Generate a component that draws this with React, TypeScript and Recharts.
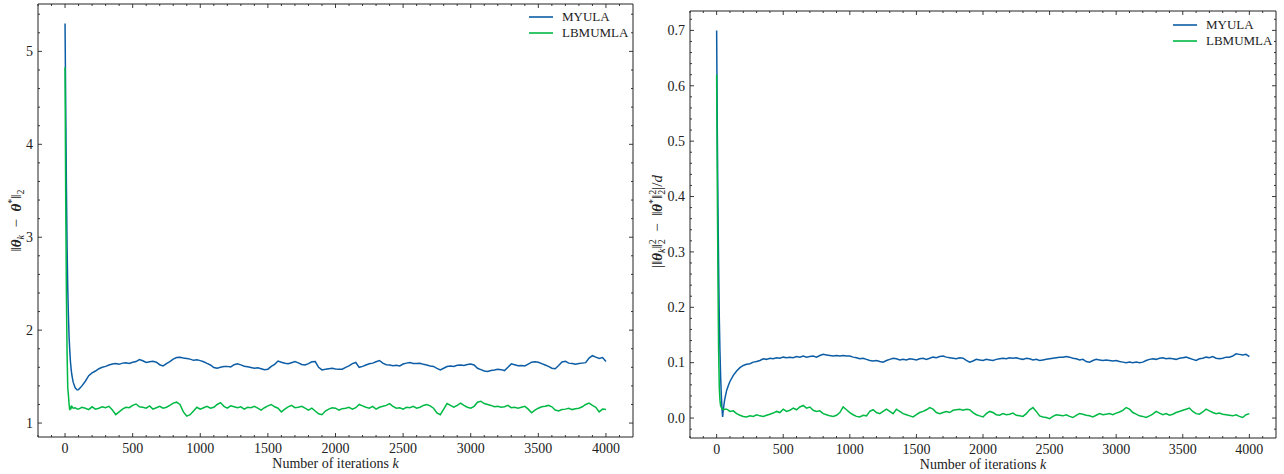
import { LineChart, Line, XAxis, YAxis, Legend, Label } from "recharts"

const BLUE = "#0C5DA5"
const GREEN = "#00B945"
const INK = "#222"
const FONT = "'Liberation Serif', 'DejaVu Serif', serif"

const SERIES = [
  { key: "MYULA", color: BLUE },
  { key: "LBMUMLA", color: GREEN },
]

// sample positions (dense at the start, then every 25 iterations)
const earlyIterations = [0, 5, 10, 15, 20, 25, 30, 35, 40, 45, 50, 60, 75, 90]
const iterations = [...earlyIterations, ...Array.from({ length: 157 }, (_, i) => 100 + 25 * i)]

// left panel: ||theta_k - theta*||_2
const myulaDist = [
  5.3, 4.4, 3.55, 2.9, 2.45, 2.15, 1.92, 1.78, 1.66, 1.58, 1.52, 1.44, 1.38, 1.356,
  1.36, 1.40, 1.45, 1.51, 1.54, 1.56, 1.585, 1.60,
  1.61, 1.625, 1.635, 1.64, 1.632, 1.645, 1.65, 1.642,
  1.655, 1.662, 1.684, 1.67, 1.652, 1.66, 1.666, 1.655,
  1.628, 1.615, 1.64, 1.662, 1.688, 1.705, 1.708, 1.70,
  1.695, 1.688, 1.675, 1.68, 1.672, 1.66, 1.642, 1.625,
  1.598, 1.59, 1.60, 1.608, 1.61, 1.604, 1.628, 1.638,
  1.626, 1.612, 1.605, 1.598, 1.59, 1.595, 1.585, 1.575,
  1.58, 1.61, 1.632, 1.668, 1.655, 1.643, 1.638, 1.65,
  1.662, 1.648, 1.63, 1.625, 1.64, 1.66, 1.662, 1.60,
  1.572, 1.578, 1.585, 1.59, 1.582, 1.578, 1.58, 1.60,
  1.615, 1.64, 1.652, 1.60, 1.61, 1.625, 1.638, 1.645,
  1.66, 1.673, 1.645, 1.628, 1.625, 1.618, 1.622, 1.615,
  1.635, 1.645, 1.651, 1.642, 1.64, 1.644, 1.632, 1.625,
  1.615, 1.61, 1.588, 1.572, 1.59, 1.608, 1.615, 1.61,
  1.622, 1.626, 1.62, 1.63, 1.635, 1.625, 1.59, 1.575,
  1.56, 1.554, 1.565, 1.57, 1.579, 1.575, 1.565, 1.60,
  1.637, 1.628, 1.618, 1.62, 1.615, 1.635, 1.655, 1.66,
  1.655, 1.64, 1.625, 1.61, 1.59, 1.585, 1.62, 1.658,
  1.665, 1.645, 1.64, 1.632, 1.64, 1.645, 1.65, 1.70,
  1.725, 1.71, 1.695, 1.705, 1.662,
]
const lbmumlaDist = [
  4.83, 3.4, 2.4, 1.75, 1.38, 1.3, 1.2, 1.14, 1.17, 1.16, 1.18, 1.16, 1.165, 1.15,
  1.15, 1.17, 1.16, 1.145, 1.175, 1.15, 1.16, 1.175,
  1.165, 1.18, 1.14, 1.09, 1.12, 1.15, 1.17, 1.165,
  1.19, 1.205, 1.175, 1.17, 1.16, 1.185, 1.15, 1.165,
  1.18, 1.16, 1.17, 1.19, 1.215, 1.225, 1.20, 1.12,
  1.075, 1.09, 1.13, 1.17, 1.15, 1.165, 1.18, 1.16,
  1.17, 1.20, 1.22, 1.18, 1.16, 1.185, 1.175, 1.165,
  1.175, 1.15, 1.17, 1.165, 1.18, 1.16, 1.14, 1.165,
  1.185, 1.20, 1.175, 1.16, 1.12, 1.15, 1.175, 1.19,
  1.165, 1.17, 1.18, 1.16, 1.14, 1.16, 1.13, 1.10,
  1.09, 1.13, 1.15, 1.165, 1.16, 1.14, 1.155, 1.16,
  1.17, 1.15, 1.165, 1.20, 1.185, 1.17, 1.16, 1.18,
  1.15, 1.17, 1.18, 1.19, 1.21, 1.18, 1.16, 1.165,
  1.15, 1.17, 1.165, 1.18, 1.16, 1.17, 1.19, 1.20,
  1.185, 1.16, 1.11, 1.09, 1.15, 1.21, 1.19, 1.17,
  1.19, 1.215, 1.19, 1.17, 1.16, 1.18, 1.225, 1.235,
  1.21, 1.20, 1.19, 1.175, 1.18, 1.17, 1.175, 1.19,
  1.165, 1.17, 1.16, 1.17, 1.18, 1.15, 1.11, 1.14,
  1.16, 1.175, 1.18, 1.19, 1.175, 1.14, 1.13, 1.145,
  1.15, 1.16, 1.145, 1.155, 1.16, 1.175, 1.20, 1.215,
  1.19, 1.17, 1.12, 1.15, 1.145,
]

// right panel: | ||theta_k||^2 - ||theta*||^2 | / d
const myulaNorm = [
  0.70, 0.52, 0.38, 0.27, 0.18, 0.12, 0.075, 0.042, 0.018, 0.002, 0.015, 0.033, 0.05, 0.06,
  0.066, 0.077, 0.085, 0.091, 0.095, 0.097, 0.098, 0.101,
  0.102, 0.104, 0.107, 0.106, 0.108, 0.107, 0.109, 0.108,
  0.110, 0.109, 0.110, 0.109, 0.111, 0.110, 0.112, 0.110,
  0.111, 0.112, 0.110, 0.113, 0.115, 0.114, 0.113, 0.112,
  0.113, 0.112, 0.113, 0.112, 0.112, 0.110, 0.109, 0.107,
  0.108, 0.106, 0.104, 0.103, 0.104, 0.102, 0.101, 0.104,
  0.106, 0.108, 0.107, 0.105, 0.106, 0.105, 0.107, 0.106,
  0.105, 0.107, 0.108, 0.106, 0.108, 0.110, 0.109, 0.111,
  0.112, 0.110, 0.109, 0.108, 0.107, 0.109, 0.108, 0.104,
  0.101, 0.103, 0.106, 0.105, 0.104, 0.106, 0.105, 0.104,
  0.106, 0.107, 0.108, 0.107, 0.109, 0.108, 0.109, 0.107,
  0.106, 0.108, 0.107, 0.105, 0.106, 0.104, 0.105, 0.106,
  0.107, 0.108, 0.109, 0.110, 0.110, 0.111, 0.110, 0.108,
  0.107, 0.105, 0.106, 0.102, 0.101, 0.104, 0.106, 0.105,
  0.104, 0.105, 0.104, 0.103, 0.104, 0.102, 0.101, 0.100,
  0.101, 0.100, 0.101, 0.100, 0.101, 0.104, 0.106, 0.107,
  0.106, 0.108, 0.109, 0.107, 0.108, 0.107, 0.106, 0.108,
  0.109, 0.110, 0.108, 0.106, 0.104, 0.107, 0.108, 0.110,
  0.109, 0.111, 0.108, 0.107, 0.108, 0.110, 0.110, 0.112,
  0.116, 0.115, 0.114, 0.115, 0.111,
]
const lbmumlaNorm = [
  0.62, 0.42, 0.25, 0.12, 0.055, 0.032, 0.022, 0.019, 0.017, 0.016, 0.015, 0.016, 0.016, 0.014,
  0.012, 0.013, 0.008, 0.005, 0.003, 0.002, 0.004, 0.003,
  0.006, 0.004, 0.003, 0.005, 0.007, 0.009, 0.012, 0.010,
  0.016, 0.012, 0.014, 0.018, 0.015, 0.020, 0.023, 0.018,
  0.020, 0.014, 0.012, 0.013, 0.008, 0.006, 0.004, 0.003,
  0.005, 0.010, 0.020, 0.015, 0.010, 0.006, 0.003, 0.002,
  0.005, 0.004, 0.012, 0.015, 0.010, 0.008, 0.012, 0.016,
  0.012, 0.008, 0.016, 0.012, 0.008, 0.006, 0.004, 0.002,
  0.006, 0.010, 0.012, 0.015, 0.019, 0.016, 0.010, 0.008,
  0.010, 0.012, 0.010, 0.014, 0.015, 0.016, 0.014, 0.016,
  0.015, 0.010, 0.006, 0.004, 0.002, 0.008, 0.012, 0.010,
  0.006, 0.005, 0.008, 0.006, 0.007, 0.009, 0.005, 0.004,
  0.003, 0.008, 0.015, 0.019, 0.012, 0.004, 0.002, 0.001,
  -0.001, 0.003, 0.006, 0.005, 0.004, 0.006, 0.003, 0.001,
  0.005, 0.008, 0.007, 0.005, 0.004, 0.002, 0.005, 0.008,
  0.006, 0.007, 0.008, 0.006, 0.009, 0.011, 0.014, 0.019,
  0.016, 0.010, 0.007, 0.004, 0.003, 0.001, 0.004, 0.007,
  0.012, 0.009, 0.006, 0.008, 0.005, 0.007, 0.010, 0.012,
  0.014, 0.016, 0.018, 0.012, 0.008, 0.007, 0.011, 0.016,
  0.013, 0.010, 0.008, 0.009, 0.007, 0.006, 0.005, 0.004,
  0.006, 0.003, 0.001, 0.006, 0.008,
]

const xMajor = [0, 500, 1000, 1500, 2000, 2500, 3000, 3500, 4000]
const xMinor = Array.from({ length: 44 }, (_, i) => -200 + 100 * i)
const distMajor = [1, 2, 3, 4, 5]
const distMinor = Array.from({ length: 23 }, (_, i) => Math.round((1 + 0.2 * i) * 10) / 10)
const normMajor = [0, 0.1, 0.2, 0.3, 0.4, 0.5, 0.6, 0.7]
const normMinor = Array.from({ length: 38 }, (_, i) => Math.round((-0.02 + 0.02 * i) * 100) / 100)

const leftData = iterations.map((k, i) => ({ k, MYULA: myulaDist[i], LBMUMLA: lbmumlaDist[i] }))
const rightData = iterations.map((k, i) => ({ k, MYULA: myulaNorm[i], LBMUMLA: lbmumlaNorm[i] }))

type Side = "bottom" | "top" | "left" | "right"

function makeTick(side: Side, majors: number[], fmt?: (v: number) => string) {
  return (props: any) => {
    const { x, y, payload } = props
    const v = payload.value
    const major = majors.some((m) => Math.abs(m - v) < 1e-9)
    const len = major ? 4 : 2
    let line
    if (side === "bottom") line = <line x1={x} y1={y} x2={x} y2={y - len} />
    else if (side === "top") line = <line x1={x} y1={y} x2={x} y2={y + len} />
    else if (side === "left") line = <line x1={x} y1={y} x2={x + len} y2={y} />
    else line = <line x1={x} y1={y} x2={x - len} y2={y} />
    return (
      <g>
        <g stroke={INK} strokeWidth={0.9}>{line}</g>
        {major && fmt && side === "bottom" && (
          <text x={x} y={y + 16} textAnchor="middle" fontFamily={FONT} fontSize={14} fill={INK}>
            {fmt(v)}
          </text>
        )}
        {major && fmt && side === "left" && (
          <text x={x - 5} y={y} dy="0.34em" textAnchor="end" fontFamily={FONT} fontSize={14} fill={INK}>
            {fmt(v)}
          </text>
        )}
      </g>
    )
  }
}

// legend keeps the plotting order (MYULA first)
const renderLegend = () => (
  <div style={{ fontFamily: FONT, fontSize: 13, color: INK }}>
    {SERIES.map((s) => (
      <div key={s.key} style={{ display: "flex", alignItems: "center", height: 16 }}>
        <svg width={24} height={4} style={{ marginRight: 9 }}>
          <line x1={0} y1={2} x2={24} y2={2} stroke={s.color} strokeWidth={1.6} />
        </svg>
        {s.key}
      </div>
    ))}
  </div>
)

const xLabel = (props: any) => {
  const { viewBox } = props
  return (
    <text x={viewBox.x + viewBox.width / 2} y={viewBox.y + 31} textAnchor="middle" fontFamily={FONT} fontSize={14} fill={INK}>
      Number of iterations <tspan fontStyle="italic">k</tspan>
    </text>
  )
}

const distLabel = (props: any) => {
  const { viewBox } = props
  const cx = 16
  const cy = viewBox.y + viewBox.height / 2
  return (
    <text transform={`rotate(-90 ${cx} ${cy})`} x={cx} y={cy} dy="0.35em" textAnchor="middle" fontFamily={FONT} fontSize={15} fill={INK}>
      ‖<tspan fontWeight="bold" fontStyle="italic">θ</tspan>
      <tspan fontStyle="italic" fontSize={10} dy={3}>k</tspan>
      <tspan dy={-3}>{"\u2002−\u2002"}</tspan>
      <tspan fontWeight="bold" fontStyle="italic">θ</tspan>
      <tspan fontSize={10} dy={-6}>*</tspan>
      <tspan dy={6}>‖</tspan>
      <tspan fontSize={10} dy={3}>2</tspan>
    </text>
  )
}

const normLabel = (props: any) => {
  const { viewBox } = props
  const cx = 17
  const cy = viewBox.y + viewBox.height / 2 - 3
  return (
    <text transform={`rotate(-90 ${cx} ${cy})`} x={cx} y={cy} dy="0.35em" textAnchor="middle" fontFamily={FONT} fontSize={15} fill={INK}>
      |‖<tspan fontWeight="bold" fontStyle="italic">θ</tspan>
      <tspan fontStyle="italic" fontSize={10} dy={3}>k</tspan>
      <tspan dy={-3}>‖</tspan>
      <tspan fontSize={10} dy={-6}>2</tspan>
      <tspan fontSize={10} dx={-5} dy={9}>2</tspan>
      <tspan dy={-3}>{"\u2002−\u2002‖"}</tspan>
      <tspan fontWeight="bold" fontStyle="italic">θ</tspan>
      <tspan fontSize={10} dy={-6}>*</tspan>
      <tspan dy={6}>‖</tspan>
      <tspan fontSize={10} dy={-6}>2</tspan>
      <tspan fontSize={10} dx={-5} dy={9}>2</tspan>
      <tspan dy={-3}>|/</tspan>
      <tspan fontStyle="italic">d</tspan>
    </text>
  )
}

function Panel({
  data,
  width,
  margin,
  yWidth,
  xHeight,
  yDomain,
  yMajor,
  yMinor,
  yFmt,
  yLabel,
  legendPos,
}: any) {
  const axisLine = { stroke: INK, strokeWidth: 1 }
  return (
    <LineChart width={width} height={474} data={data} margin={margin}>
      <XAxis
        dataKey="k"
        type="number"
        domain={[-200, 4200]}
        ticks={xMinor}
        interval={0}
        allowDataOverflow
        height={xHeight}
        tickSize={0}
        tickMargin={0}
        tickLine={false}
        axisLine={axisLine}
        tick={makeTick("bottom", xMajor, (v) => String(v))}
      >
        <Label content={xLabel} />
      </XAxis>
      <XAxis
        xAxisId="top"
        orientation="top"
        dataKey="k"
        type="number"
        domain={[-200, 4200]}
        ticks={xMinor}
        interval={0}
        allowDataOverflow
        height={1}
        tickSize={0}
        tickMargin={0}
        tickLine={false}
        axisLine={axisLine}
        tick={makeTick("top", xMajor)}
      />
      <YAxis
        type="number"
        domain={yDomain}
        ticks={yMinor}
        interval={0}
        allowDataOverflow
        width={yWidth}
        tickSize={0}
        tickMargin={0}
        tickLine={false}
        axisLine={axisLine}
        tick={makeTick("left", yMajor, yFmt)}
      >
        <Label content={yLabel} />
      </YAxis>
      <YAxis
        yAxisId="right"
        orientation="right"
        type="number"
        domain={yDomain}
        ticks={yMinor}
        interval={0}
        allowDataOverflow
        width={1}
        tickSize={0}
        tickMargin={0}
        tickLine={false}
        axisLine={axisLine}
        tick={makeTick("right", yMajor)}
      />
      <Legend
        layout="horizontal"
        verticalAlign="middle"
        align="center"
        content={renderLegend}
        wrapperStyle={{ position: "absolute", left: legendPos.left, top: legendPos.top, width: "auto", height: "auto" }}
      />
      {SERIES.map((s) => (
        <Line
          key={s.key}
          dataKey={s.key}
          type="linear"
          stroke={s.color}
          strokeWidth={1.5}
          dot={false}
          isAnimationActive={false}
        />
      ))}
    </LineChart>
  )
}

export default function App() {
  return (
    <div style={{ position: "absolute", left: 0, top: 0, width: 1284, height: 474, background: "#fff" }}>
      <div style={{ position: "absolute", left: 0, top: 0 }}>
        <Panel
          data={leftData}
          width={640}
          margin={{ top: 3, right: 6, bottom: 0, left: 0 }}
          yWidth={38}
          xHeight={37}
          yDomain={[0.85, 5.51]}
          yMajor={distMajor}
          yMinor={distMinor}
          yFmt={(v: number) => String(v)}
          yLabel={distLabel}
          legendPos={{ left: 529, top: 9 }}
        />
      </div>
      <div style={{ position: "absolute", left: 640, top: 0 }}>
        <Panel
          data={rightData}
          width={644}
          margin={{ top: 10, right: 7, bottom: 0, left: 0 }}
          yWidth={50}
          xHeight={36}
          yDomain={[-0.036, 0.735]}
          yMajor={normMajor}
          yMinor={normMinor}
          yFmt={(v: number) => v.toFixed(1)}
          yLabel={normLabel}
          legendPos={{ left: 533, top: 17 }}
        />
      </div>
    </div>
  )
}
